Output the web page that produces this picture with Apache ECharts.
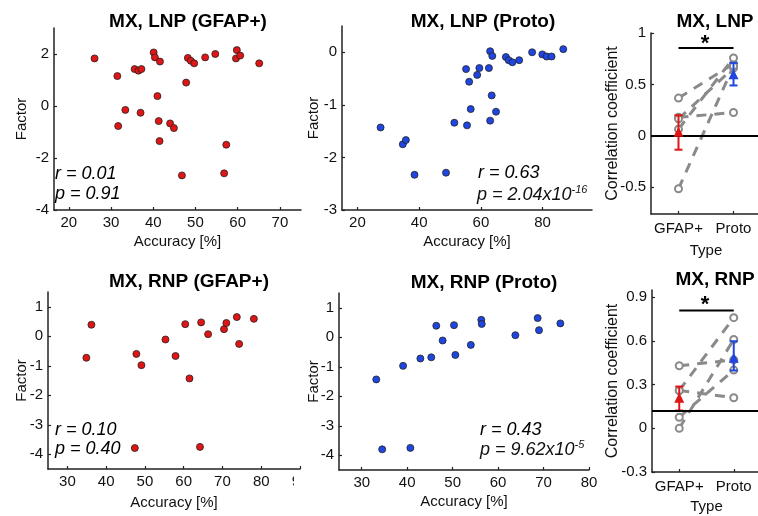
<!DOCTYPE html>
<html>
  <head>
    <meta charset="utf-8" />
    <title>MX, LNP / RNP factor vs accuracy</title>
    <script src="https://cdn.jsdelivr.net/npm/echarts@6/dist/echarts.min.js"></script>
    <style>
      html, body { margin: 0; padding: 0; background: #fff; }
    </style>
  </head>
  <body>
    <div id="main" style="width: 758px; height: 516px"></div>
    <script type="text/javascript">
      // --- values ---
      var lnpGfapAcc = [26.1, 31.5, 31.7, 33.4, 35.6, 36.5, 37.2, 37.0, 40.1, 40.4, 41.6, 41.0, 41.3, 41.5, 44.0, 44.9, 46.8, 47.8, 48.2, 48.9, 49.7, 52.3, 54.7, 56.8, 57.3, 59.6, 59.8, 60.6, 65.1];
      var lnpGfapFactor = [1.83, 1.15, -0.77, -0.15, 1.42, 1.36, 1.42, -0.26, 2.06, 1.87, 1.71, 0.38, -0.58, -1.35, -0.67, -0.85, -2.67, 0.9, 1.85, 1.74, 1.64, 1.87, 2.0, -2.59, -1.49, 1.83, 2.15, 1.94, 1.64];

      var lnpProtoAcc = [27.5, 34.7, 35.7, 38.5, 48.7, 51.4, 55.2, 55.5, 56.2, 56.7, 58.8, 59.5, 62.6, 63.0, 63.0, 63.5, 63.7, 64.9, 68.1, 69.0, 70.2, 72.4, 76.6, 79.9, 81.3, 82.9, 86.7];
      var lnpProtoFactor = [-1.43, -1.75, -1.67, -2.33, -2.29, -1.34, -0.32, -1.39, -0.56, -1.08, -0.43, -0.30, -0.30, 0.02, -1.30, -0.82, -0.07, -1.13, -0.09, -0.15, -0.19, -0.15, 0.0, -0.04, -0.08, -0.08, 0.06];

      var rnpGfapAcc = [34.9, 36.2, 47.4, 47.8, 49.1, 55.3, 57.9, 60.4, 61.5, 64.2, 64.5, 66.3, 70.4, 71.0, 73.7, 74.3, 78.1];
      var rnpGfapFactor = [-0.73, 0.39, -3.79, -0.60, -0.98, -0.11, -0.67, 0.41, -1.43, -3.75, 0.47, 0.07, 0.24, 0.45, 0.65, -0.26, 0.59];

      var rnpProtoAcc = [33.2, 34.5, 39.1, 40.7, 42.9, 45.3, 46.4, 47.8, 50.3, 50.6, 54.0, 56.3, 56.4, 63.8, 68.7, 69.0, 73.7];
      var rnpProtoFactor = [-1.43, -3.80, -0.97, -3.75, -0.72, -0.68, 0.39, -0.11, 0.41, -0.60, -0.26, 0.59, 0.45, 0.07, 0.65, 0.24, 0.47];

      // paired correlation coefficients (one line per animal)
      var cellTypes = ['GFAP+', 'Proto'];
      var lnpGfapR = [0.367, 0.18, 0.165, 0.065, -0.515];
      var lnpProtoR = [0.70, 0.227, 0.66, 0.757, 0.68];
      var rnpGfapR = [0.43, 0.26, 0.26, 0.076, 0.0];
      var rnpProtoR = [0.47, 0.21, 0.76, 0.40, 0.61];

      // mean and error bar ends per type
      var lnpMean = [0.04, 0.60];
      var lnpLow = [-0.135, 0.49];
      var lnpHigh = [0.20, 0.71];
      var rnpMean = [0.21, 0.484];
      var rnpLow = [0.122, 0.397];
      var rnpHigh = [0.287, 0.598];

      var lnpBaseline = 0;
      var rnpBaseline = 0.115;
      var lnpSigLevel = 0.855;
      var rnpSigLevel = 0.81;

      // tick labels
      var ticksLnpGfapX = [20, 30, 40, 50, 60, 70];
      var ticksLnpGfapY = [-4, -2, 0, 2];
      var ticksLnpProtoX = [20, 40, 60, 80];
      var ticksLnpProtoY = [-3, -2, -1, 0];
      var ticksRnpGfapX = [30, 40, 50, 60, 70, 80, 90];
      var ticksRnpProtoX = [30, 40, 50, 60, 70, 80];
      var ticksRnpY = [-4, -3, -2, -1, 0, 1];
      var ticksLnpCorr = [-0.5, 0, 0.5, 1];
      var ticksRnpCorr = [-0.3, 0, 0.3, 0.6, 0.9];

      var FONT = 'Liberation Sans, Arial, sans-serif';
      var RED = '#e01515';
      var BLUE = '#1f46e0';
      var GREY = '#8a8a8a';
      var AXIS = '#222';

      var chartDom = document.getElementById('main');
      var myChart = echarts.init(chartDom, null, { renderer: 'canvas' });

      function zip(xs, ys) {
        return xs.map(function (x, i) {
          return [x, ys[i]];
        });
      }

      function valAxis(grid, min, max, ticks, name, gap, nameSize) {
        return {
          type: 'value',
          gridIndex: grid,
          min: min,
          max: max,
          name: name,
          nameLocation: 'middle',
          nameGap: gap,
          nameMoveOverlap: false,
          nameTextStyle: { fontFamily: FONT, fontSize: nameSize || 15, color: '#111' },
          axisLine: { show: true, onZero: false, lineStyle: { color: AXIS, width: 1.5 } },
          axisTick: { show: true, inside: true, length: 3, customValues: ticks, lineStyle: { color: AXIS, width: 1.2 } },
          axisLabel: { customValues: ticks, fontFamily: FONT, fontSize: 15, color: '#111', margin: 5 },
          splitLine: { show: false }
        };
      }

      function typeAxis(grid, gap) {
        return {
          type: 'category',
          gridIndex: grid,
          data: cellTypes,
          boundaryGap: true,
          name: 'Type',
          nameLocation: 'middle',
          nameGap: gap,
          nameMoveOverlap: false,
          nameTextStyle: { fontFamily: FONT, fontSize: 15, color: '#111' },
          axisLine: { show: true, onZero: false, lineStyle: { color: AXIS, width: 1.5 } },
          axisTick: { show: true, inside: true, alignWithLabel: true, length: 3, lineStyle: { color: AXIS, width: 1.2 } },
          axisLabel: { interval: 0, fontFamily: FONT, fontSize: 15, color: '#111', margin: 7 },
          splitLine: { show: false }
        };
      }

      function dots(axis, xs, ys, color) {
        return {
          type: 'scatter',
          xAxisIndex: axis,
          yAxisIndex: axis,
          data: zip(xs, ys),
          symbolSize: 7,
          itemStyle: { color: color, borderColor: '#222', borderWidth: 0.8, opacity: 1 },
          z: 3
        };
      }

      // paired lines, error bars, means and significance bar for one comparison panel
      function pairedSeries(axis, gfap, proto, mean, low, high, baseline, sig) {
        var out = [];
        gfap.forEach(function (g, i) {
          out.push({
            type: 'line',
            xAxisIndex: axis,
            yAxisIndex: axis,
            data: [[cellTypes[0], g], [cellTypes[1], proto[i]]],
            symbol: 'emptyCircle',
            symbolSize: 7,
            lineStyle: { color: GREY, width: 3, type: [10, 8] },
            itemStyle: { color: GREY, borderColor: GREY, borderWidth: 1.5 },
            z: 2
          });
        });
        [RED, BLUE].forEach(function (c, k) {
          out.push({
            type: 'line',
            xAxisIndex: axis,
            yAxisIndex: axis,
            data: [[cellTypes[k], low[k]], [cellTypes[k], high[k]]],
            symbol: 'rect',
            symbolSize: [8, 2],
            lineStyle: { color: c, width: 2 },
            itemStyle: { color: c },
            z: 4
          });
          out.push({
            type: 'scatter',
            xAxisIndex: axis,
            yAxisIndex: axis,
            data: [[cellTypes[k], mean[k]]],
            symbol: 'triangle',
            symbolSize: 10,
            itemStyle: { color: c, opacity: 1 },
            z: 5
          });
        });
        out.push({
          type: 'line',
          xAxisIndex: axis,
          yAxisIndex: axis,
          data: [[cellTypes[0], sig], [cellTypes[1], sig]],
          symbol: 'none',
          lineStyle: { color: '#000', width: 2 },
          markLine: {
            silent: true,
            symbol: 'none',
            label: { show: false },
            lineStyle: { color: '#000', width: 2, type: 'solid' },
            data: [{ yAxis: baseline }]
          },
          z: 3
        });
        return out;
      }

      function label(x, y, text, font, align) {
        return {
          type: 'text',
          x: x,
          y: y,
          z: 50,
          style: { text: text, font: font, fill: '#000', align: align || 'center', verticalAlign: 'middle' }
        };
      }

      function stat(x, y, base, sup) {
        return {
          type: 'text',
          x: x,
          y: y,
          z: 50,
          style: {
            text: '{a|' + base + '}{b|' + sup + '}',
            align: 'left',
            verticalAlign: 'middle',
            fill: '#111',
            rich: {
              a: { fontFamily: FONT, fontStyle: 'italic', fontSize: 18, lineHeight: 22, fill: '#111' },
              b: { fontFamily: FONT, fontStyle: 'italic', fontSize: 11, lineHeight: 22, verticalAlign: 'top', fill: '#111' }
            }
          }
        };
      }

      var TITLE = 'bold 19px ' + FONT;
      var STAT = 'italic 18px ' + FONT;
      var STAR = 'bold 22px ' + FONT;

      var option = {
        animation: false,
        backgroundColor: '#fff',
        grid: [
          { left: 54, top: 28, width: 247, height: 182, outerBoundsMode: 'none' },
          { left: 342, top: 26, width: 250, height: 184, outerBoundsMode: 'none' },
          { left: 651, top: 33, width: 110, height: 181, outerBoundsMode: 'none' },
          { left: 48, top: 292, width: 252, height: 177, outerBoundsMode: 'none' },
          { left: 339, top: 293, width: 250, height: 177, outerBoundsMode: 'none' },
          { left: 652, top: 290, width: 109, height: 182, outerBoundsMode: 'none' }
        ],
        xAxis: [
          valAxis(0, 16.5, 75, ticksLnpGfapX, 'Accuracy [%]', 24),
          valAxis(1, 15, 96, ticksLnpProtoX, 'Accuracy [%]', 24),
          typeAxis(2, 29),
          valAxis(3, 25, 90, ticksRnpGfapX, 'Accuracy [%]', 26),
          valAxis(4, 25, 80, ticksRnpProtoX, 'Accuracy [%]', 24),
          typeAxis(5, 27)
        ],
        yAxis: [
          valAxis(0, -4, 3, ticksLnpGfapY, 'Factor', 25),
          valAxis(1, -3, 0.5, ticksLnpProtoY, 'Factor', 21),
          valAxis(2, -0.76, 1, ticksLnpCorr, 'Correlation coefficient', 30, 16),
          valAxis(3, -4.5, 1.5, ticksRnpY, 'Factor', 19),
          valAxis(4, -4.5, 1.5, ticksRnpY, 'Factor', 18),
          valAxis(5, -0.3, 0.95, ticksRnpCorr, 'Correlation coefficient', 31, 16)
        ],
        series: [
          dots(0, lnpGfapAcc, lnpGfapFactor, RED),
          dots(1, lnpProtoAcc, lnpProtoFactor, BLUE),
          dots(3, rnpGfapAcc, rnpGfapFactor, RED),
          dots(4, rnpProtoAcc, rnpProtoFactor, BLUE)
        ]
          .concat(pairedSeries(2, lnpGfapR, lnpProtoR, lnpMean, lnpLow, lnpHigh, lnpBaseline, lnpSigLevel))
          .concat(pairedSeries(5, rnpGfapR, rnpProtoR, rnpMean, rnpLow, rnpHigh, rnpBaseline, rnpSigLevel)),
        graphic: [
          label(188, 22, 'MX, LNP (GFAP+)', TITLE),
          label(483, 22, 'MX, LNP (Proto)', TITLE),
          label(715, 22, 'MX, LNP', TITLE),
          label(189, 282, 'MX, RNP (GFAP+)', TITLE),
          label(484, 283, 'MX, RNP (Proto)', TITLE),
          label(715, 280, 'MX, RNP', TITLE),
          label(55, 174, 'r = 0.01', STAT, 'left'),
          label(55, 194, 'p = 0.91', STAT, 'left'),
          label(478, 173, 'r = 0.63', STAT, 'left'),
          stat(477, 195, 'p = 2.04x10', '-16'),
          label(55, 430, 'r = 0.10', STAT, 'left'),
          label(55, 449, 'p = 0.40', STAT, 'left'),
          label(480, 430, 'r = 0.43', STAT, 'left'),
          stat(480, 450, 'p = 9.62x10', '-5'),
          label(705, 44, '*', STAR),
          label(705, 305, '*', STAR),
          // the neighbouring panel hides the right half of the last tick label
          { type: 'rect', z: 40, shape: { x: 294, y: 474, width: 30, height: 18 }, style: { fill: '#fff' } }
        ]
      };

      option && myChart.setOption(option);
    </script>
  </body>
</html>
